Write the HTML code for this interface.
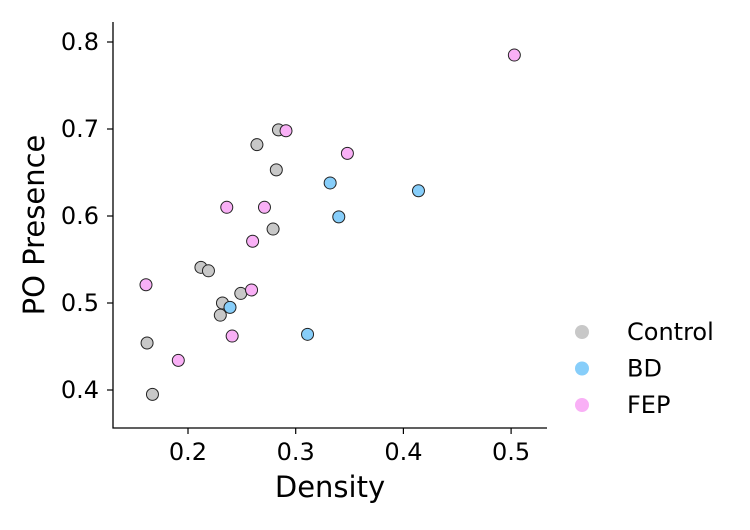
<!DOCTYPE html>
<html><head><meta charset="utf-8"><style>
body{margin:0;background:#fff;}
svg text{font-family:"DejaVu Sans","Liberation Sans",sans-serif;fill:#000;}
</style></head><body>
<svg id="chart" width="750" height="525"></svg>
<script>
const controlX=[0.284,0.264,0.282,0.279,0.212,0.219,0.232,0.249,0.230,0.162,0.167];
const controlY=[0.699,0.682,0.653,0.585,0.541,0.537,0.500,0.511,0.486,0.454,0.395];
const bdX=[0.332,0.414,0.340,0.239,0.311];
const bdY=[0.638,0.629,0.599,0.495,0.464];
const fepX=[0.503,0.291,0.348,0.236,0.271,0.260,0.259,0.161,0.191,0.241];
const fepY=[0.785,0.698,0.672,0.610,0.610,0.571,0.515,0.521,0.434,0.462];
const xTicks=[0.2,0.3,0.4,0.5];
const yTicks=[0.4,0.5,0.6,0.7,0.8];
const groups=["Control","BD","FEP"];
const colors=["#c8c8c8","#87cefa","#f9b0f6"];

const NS="http://www.w3.org/2000/svg";
const svg=document.getElementById('chart');
const sx=v=>188+(v-0.2)*1077;
const sy=v=>42+(0.8-v)*870;
function mk(tag,attrs,parent){const e=document.createElementNS(NS,tag);for(const k in attrs)e.setAttribute(k,attrs[k]);(parent||svg).appendChild(e);return e;}

const ax=mk('path',{d:'M113,22 V428 H547',fill:'none',stroke:'#000','stroke-width':1.3});


xTicks.forEach(t=>{
  const l=mk('line',{x1:sx(t),x2:sx(t),y1:428,y2:434,stroke:'#000','stroke-width':1.2});
  
  
  const tx=mk('text',{x:sx(t),y:460,'font-size':24,'text-anchor':'middle'});
  tx.textContent=t.toFixed(1);
  
  
});
yTicks.forEach(t=>{
  const l=mk('line',{x1:107,x2:113,y1:sy(t),y2:sy(t),stroke:'#000','stroke-width':1.2});
  
  
  const tx=mk('text',{x:99,y:sy(t)+8,'font-size':24,'text-anchor':'end'});
  tx.textContent=t.toFixed(1);
  
  
});
const xl=mk('text',{x:330,y:497,'font-size':29,'text-anchor':'middle'});
xl.textContent='Density';


const yl=mk('text',{x:0,y:0,'font-size':29,'text-anchor':'middle',transform:'translate(44,225) rotate(-90)'});
yl.textContent='PO Presence';



[[controlX,controlY],[bdX,bdY],[fepX,fepY]].forEach((s,gi)=>{
  s[0].forEach((x,i)=>{
    const c=mk('circle',{cx:sx(x),cy:sy(s[1][i]),r:6,fill:colors[gi],stroke:'#222','stroke-width':1});
    
    
  });
});
groups.forEach((g,i)=>{
  const y=332+i*36.5;
  const c=mk('circle',{cx:582,cy:y,r:7,fill:colors[i]});
  
  
  const t=mk('text',{x:627,y:y+8,'font-size':24});
  t.textContent=g;
  
  
});
</script>
</body></html>
